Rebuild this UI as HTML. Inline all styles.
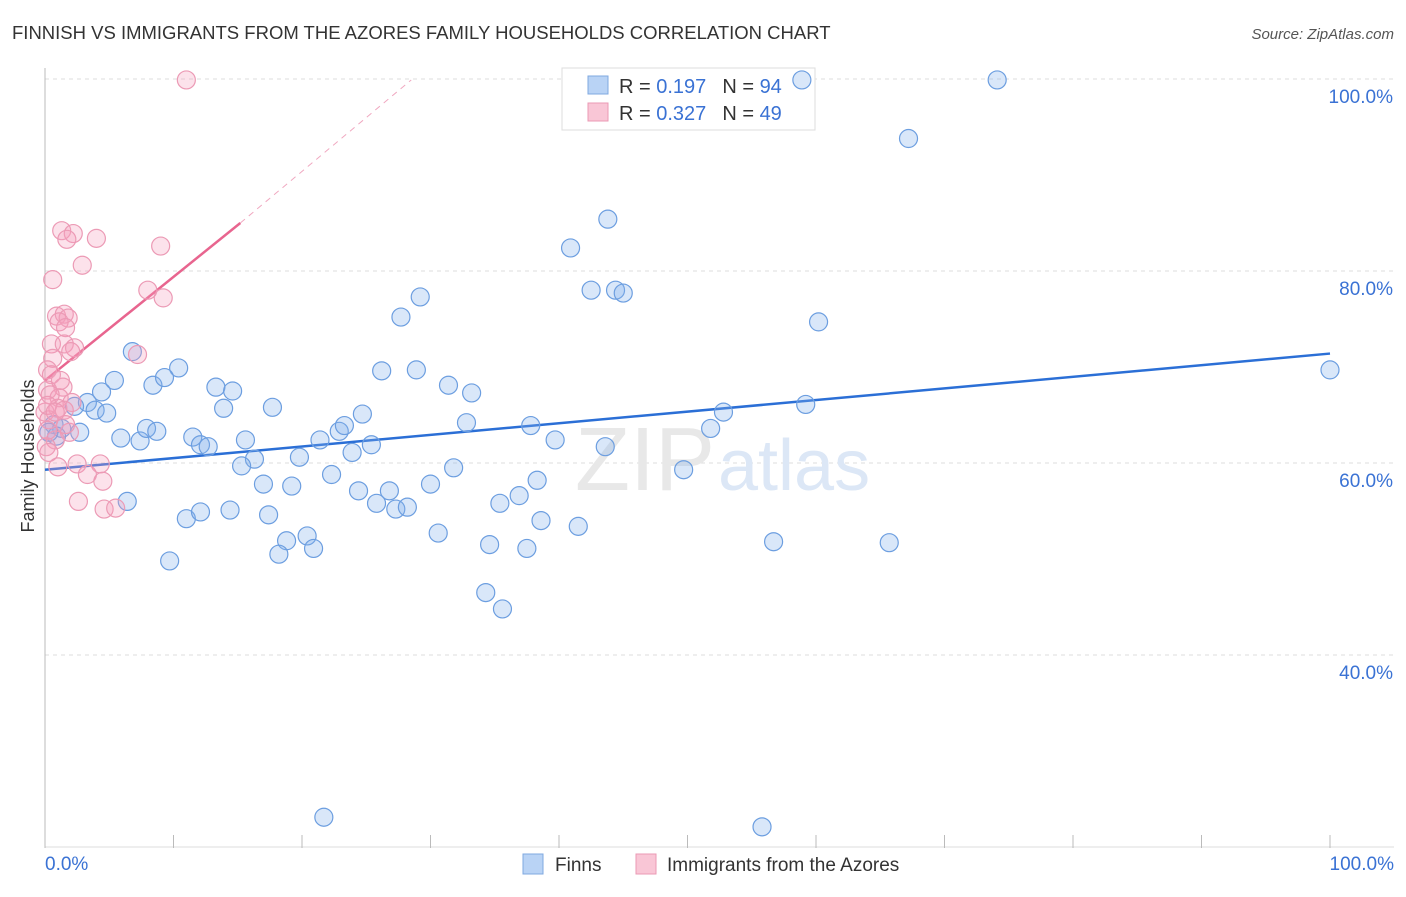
<!DOCTYPE html>
<html><head><meta charset="utf-8"><style>
body{margin:0;background:#fff;font-family:"Liberation Sans",sans-serif;}
svg text{font-family:"Liberation Sans",sans-serif;}
</style></head><body>
<svg id="chart" width="1406" height="892">
<text x="12" y="39" font-size="18.5" fill="#333">FINNISH VS IMMIGRANTS FROM THE AZORES FAMILY HOUSEHOLDS CORRELATION CHART</text>
<text x="1394" y="39" font-size="15" fill="#555" font-style="italic" text-anchor="end">Source: ZipAtlas.com</text>
<text x="34" y="456" font-size="18" fill="#333" text-anchor="middle" transform="rotate(-90 34 456)">Family Households</text>
<g id="grid"></g>
<text x="715" y="490" font-size="90" fill="#e8e8e8" text-anchor="end" font-family="Liberation Serif">ZIP</text>
<text x="718" y="490" font-size="72" fill="#dce7f6">atlas</text>
<g>
<rect x="562" y="68" width="253" height="62" fill="#fff" stroke="#ddd"/>
<rect x="588" y="76" width="20" height="18" fill="#b9d3f5" stroke="#7fa8e0"/>
<rect x="588" y="103" width="20" height="18" fill="#f9c6d6" stroke="#eb9ab4"/>
<text x="619" y="93" font-size="20" fill="#333">R = <tspan fill="#3a72d4">0.197</tspan><tspan dx="16">N = </tspan><tspan fill="#3a72d4">94</tspan></text>
<text x="619" y="120" font-size="20" fill="#333">R = <tspan fill="#3a72d4">0.327</tspan><tspan dx="16">N = </tspan><tspan fill="#3a72d4">49</tspan></text>
</g>
<g id="lines"></g>
<g id="pts"></g>
<g>
<rect x="523" y="854" width="20" height="20" fill="#b9d3f5" stroke="#7fa8e0"/>
<text x="555" y="871" font-size="19" fill="#333">Finns</text>
<rect x="636" y="854" width="20" height="20" fill="#f9c6d6" stroke="#eb9ab4"/>
<text x="667" y="871" font-size="19" fill="#333">Immigrants from the Azores</text>
</g>
<text x="45" y="870" font-size="19" fill="#3a72d4">0.0%</text>
<text x="1394" y="870" font-size="19" fill="#3a72d4" text-anchor="end">100.0%</text>
</svg>
<script>
const yTicks=[40,60,80,100];
const yTickLabels=["40.0%","60.0%","80.0%","100.0%"];
const finnsX=[58.9,74.1,67.2,43.8,40.9,42.5,44.4,45.0,29.2,60.2,27.7,6.8,10.4,8.4,9.3,5.4,4.4,13.3,14.6,26.2,28.9,31.4,33.2,3.3,2.3,3.9,4.8,13.9,17.7,24.7,32.8,37.8,52.8,59.2,51.8,0.7,1.3,2.7,5.9,7.4,7.9,8.7,11.5,12.1,12.7,15.6,21.4,22.9,23.3,25.4,23.9,39.7,43.6,19.8,16.3,15.3,31.8,49.7,22.3,17.0,19.2,30.0,38.3,24.4,26.8,25.8,27.3,28.2,35.4,36.9,6.4,11.0,12.1,14.4,17.4,38.6,41.5,30.6,20.4,18.8,20.9,18.2,34.6,37.5,56.7,65.7,9.7,34.3,35.6,21.7,55.8,100,0.9,0.3];
const finnsY=[99.9,99.9,93.8,85.4,82.4,78.0,78.0,77.7,77.3,74.7,75.2,71.6,69.9,68.1,68.9,68.6,67.4,67.9,67.5,69.6,69.7,68.1,67.3,66.3,65.9,65.5,65.2,65.7,65.8,65.1,64.2,63.9,65.3,66.1,63.6,64.0,63.6,63.2,62.6,62.3,63.6,63.3,62.7,61.9,61.7,62.4,62.4,63.3,63.9,61.9,61.1,62.4,61.7,60.6,60.4,59.7,59.5,59.3,58.8,57.8,57.6,57.8,58.2,57.1,57.1,55.8,55.2,55.4,55.8,56.6,56.0,54.2,54.9,55.1,54.6,54.0,53.4,52.7,52.4,51.9,51.1,50.5,51.5,51.1,51.8,51.7,49.8,46.5,44.8,23.1,22.1,69.7,62.8,63.2];
const azoresX=[11.0,1.3,2.2,1.7,4.0,9.0,2.9,0.6,8.0,9.2,0.9,1.5,1.8,1.1,1.6,0.5,1.5,2.3,2.0,7.2,0.6,0.2,0.5,1.4,0.2,1.1,2.1,1.0,0.0,1.5,0.3,1.9,0.8,0.1,0.3,2.5,4.3,1.0,3.3,4.5,2.6,4.6,5.5,0.2,0.4,1.2,0.2,1.6,0.8];
const azoresY=[99.9,84.2,83.9,83.3,83.4,82.6,80.6,79.1,78.0,77.2,75.3,75.5,75.1,74.7,74.1,72.4,72.4,72.0,71.6,71.3,70.9,69.7,69.2,67.9,67.6,66.8,66.3,65.7,65.3,65.5,64.5,63.2,62.4,61.7,61.1,59.9,59.9,59.6,58.8,58.1,56.0,55.2,55.3,63.4,67.1,68.6,66.0,64.0,65.3];
const finnsTrend=[[0,59.3],[100,71.4]];
const azoresTrend=[[0,68.6],[15.2,85.0]];
const azoresTrendExt=[[15.2,85.0],[28.5,99.9]];
const xTicks=[0,10,20,30,40,50,60,70,80,90,100];

const NS="http://www.w3.org/2000/svg";
const X=v=>45+v*12.85, Y=v=>1039-v*9.6;
function mk(tag,attrs,parent){const e=document.createElementNS(NS,tag);for(const k in attrs)e.setAttribute(k,attrs[k]);parent.appendChild(e);return e;}
const grid=document.getElementById('grid');
yTicks.forEach((t,i)=>{
  const l=mk('line',{x1:45,x2:1394,y1:Y(t),y2:Y(t),stroke:'#ddd','stroke-dasharray':'4,4'},grid);
  
  
  const tx=mk('text',{x:1393,y:Y(t)+24,'font-size':19,fill:'#3a72d4','text-anchor':'end'},grid);
  tx.textContent=yTickLabels[i];
  
  
});
const ax=mk('line',{x1:45,x2:45,y1:68,y2:848,stroke:'#bbb'},grid);


const bx=mk('line',{x1:45,x2:1394,y1:847,y2:847,stroke:'#ddd'},grid);


xTicks.forEach(t=>{
  const l=mk('line',{x1:X(t),x2:X(t),y1:835,y2:848,stroke:'#bbb'},grid);
  
  
});
const pts=document.getElementById('pts');
finnsX.forEach((v,i)=>{
  const c=mk('circle',{cx:X(v),cy:Y(finnsY[i]),r:9,fill:'rgba(130,175,235,0.3)',stroke:'#6c9ee0','stroke-width':1.2},pts);
  
  
});
azoresX.forEach((v,i)=>{
  const c=mk('circle',{cx:X(v),cy:Y(azoresY[i]),r:9,fill:'rgba(245,160,190,0.3)',stroke:'#ec9ab5','stroke-width':1.2},pts);
  
  
});
const lines=document.getElementById('lines');
const l1=mk('line',{x1:X(finnsTrend[0][0]),y1:Y(finnsTrend[0][1]),x2:X(finnsTrend[1][0]),y2:Y(finnsTrend[1][1]),stroke:'#2b6fd6','stroke-width':2.5},lines);


const l2=mk('line',{x1:X(azoresTrend[0][0]),y1:Y(azoresTrend[0][1]),x2:X(azoresTrend[1][0]),y2:Y(azoresTrend[1][1]),stroke:'#e8658f','stroke-width':2.5},lines);


const l3=mk('line',{x1:X(azoresTrendExt[0][0]),y1:Y(azoresTrendExt[0][1]),x2:X(azoresTrendExt[1][0]),y2:Y(azoresTrendExt[1][1]),stroke:'#f0a8c0','stroke-width':1,'stroke-dasharray':'6,5'},lines);


</script>
</body></html>
